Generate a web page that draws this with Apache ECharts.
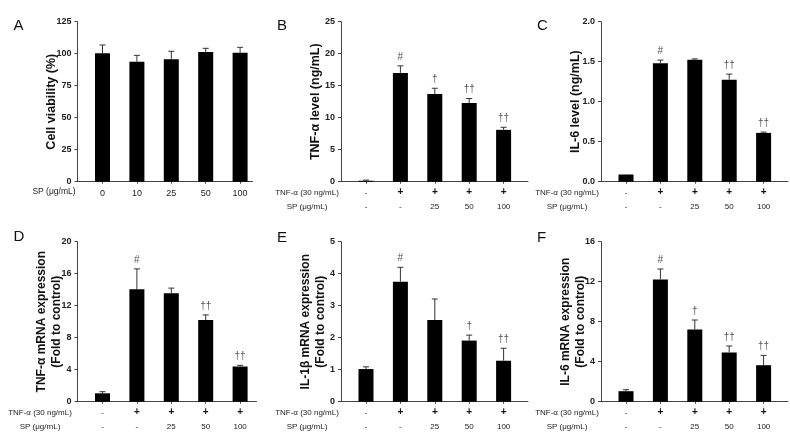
<!DOCTYPE html>
<html>
<head>
<meta charset="utf-8">
<script src="https://cdn.jsdelivr.net/npm/echarts@6/dist/echarts.min.js"></script>
<style>html,body{margin:0;padding:0;background:#fff;}#c{width:790px;height:443px;}</style>
</head>
<body>
<div id="c"></div>
<script>
// ---- data ----
const groups = [1, 2, 3, 4, 5];
const labelsA = ['0', '10', '25', '50', '100'];
const tnfRow = ['-', '+', '+', '+', '+'];
const spRow = ['-', '-', '25', '50', '100'];

const valuesA = [100.3, 93.7, 95.6, 101.3, 100.8];
const errA = [6.5, 5.0, 6.3, 2.9, 4.2];
const sigA = ['', '', '', '', ''];

const valuesB = [0.15, 17.0, 13.7, 12.3, 8.1];
const errB = [0.1, 1.1, 0.9, 0.7, 0.4];
const sigB = ['', '#', '†', '††', '††'];

const valuesC = [0.09, 1.48, 1.525, 1.275, 0.61];
const errC = [0.0, 0.04, 0.01, 0.07, 0.01];
const sigC = ['', '#', '', '††', '††'];

const valuesD = [1.05, 14.05, 13.55, 10.2, 4.4];
const errD = [0.2, 2.55, 0.65, 0.65, 0.15];
const sigD = ['', '#', '', '††', '††'];

const valuesE = [1.02, 3.75, 2.55, 1.91, 1.28];
const errE = [0.07, 0.45, 0.66, 0.17, 0.39];
const sigE = ['', '#', '', '†', '††'];

const valuesF = [1.05, 12.22, 7.22, 4.92, 3.65];
const errF = [0.15, 1.05, 0.95, 0.65, 0.98];
const sigF = ['', '#', '†', '††', '††'];

const yTicksA = [0, 125, 25];
const yTicksB = [0, 25, 5];
const yTicksC = [0, 2, 0.5];
const yTicksD = [0, 20, 4];
const yTicksE = [0, 5, 1];
const yTicksF = [0, 16, 4];

// ---- layout ----
const FONT = '"Liberation Sans", Arial, sans-serif';
const AXC = '#444';
const PX_PER = 34.4, OFF = 25;
const panels = [
  {letter:'A', left:77.5, top:21.7, width:175, vals:valuesA, err:errA, sig:sigA, y:yTicksA, name:'Cell viability (%)', gap:18, single:true, dec:0, rowX:54, lt:18},
  {letter:'B', left:341, top:21.7, width:187, vals:valuesB, err:errB, sig:sigB, y:yTicksB, name:'TNF-α level (ng/mL)', gap:17, dec:0, rowX:307, lt:18},
  {letter:'C', left:601, top:21.7, width:187, vals:valuesC, err:errC, sig:sigC, y:yTicksC, name:'IL-6 level (ng/mL)', gap:17, dec:1, rowX:567, lt:18},
  {letter:'D', left:77.5, top:241.7, width:179, vals:valuesD, err:errD, sig:sigD, y:yTicksD, name:'TNF-α mRNA expression\n(Fold to control)', gap:13, dec:0, rowX:40, lt:229, two:true},
  {letter:'E', left:341, top:241.7, width:187, vals:valuesE, err:errE, sig:sigE, y:yTicksE, name:'IL-1β mRNA expression\n(Fold to control)', gap:13, dec:0, rowX:307, lt:230, two:true},
  {letter:'F', left:601, top:241.7, width:187, vals:valuesF, err:errF, sig:sigF, y:yTicksF, name:'IL-6 mRNA expression\n(Fold to control)', gap:13, dec:0, rowX:567, lt:230, two:true}
];
const H = 160;

const grid = [], xAxis = [], yAxis = [], series = [], title = [], graphic = [];
panels.forEach((p, k) => {
  grid.push({left:p.left, top:p.top, width:p.width, height:H});
  const xmin = 1 - OFF / PX_PER;
  xAxis.push({
    type:'value', gridIndex:k, min:xmin, max:xmin + p.width / PX_PER,
    splitLine:{show:false},
    axisLine:{show:true, lineStyle:{color:AXC, width:1}},
    axisTick:{show:true, customValues:groups, length:2, lineStyle:{color:AXC}},
    axisLabel:{
      customValues:groups, margin: p.single ? 5 : 4,
      fontFamily:FONT, fontSize: p.single ? 9 : 8, color:'#222', lineHeight:14,
      formatter:(v) => {
        const i = Math.round(v) - 1;
        if (p.single) return labelsA[i];
        const t = tnfRow[i] === '+' ? '{b|+}' : '{n|-}';
        return t + '\n{n|' + spRow[i] + '}';
      },
      rich:{
        b:{fontFamily:FONT, fontSize:10, fontWeight:'bold', color:'#111', lineHeight:14},
        n:{fontFamily:FONT, fontSize:8, color:'#222', lineHeight:14}
      }
    }
  });
  yAxis.push({
    type:'value', gridIndex:k, min:p.y[0], max:p.y[1], interval:p.y[2],
    splitLine:{show:false},
    axisLine:{show:true, lineStyle:{color:AXC, width:1}},
    axisTick:{show:true, length:3, lineStyle:{color:AXC}},
    axisLabel:{margin:6, fontFamily:FONT, fontSize:9, fontWeight:'bold', color:'#222',
      formatter:(v) => v.toFixed(p.dec)},
    name:p.name, nameLocation:'middle', nameGap:p.gap, nameMoveOverlap:false,
    nameTextStyle:{fontFamily:FONT, fontSize: p.two ? 12 : 12.5, fontWeight:'bold', color:'#111', lineHeight: p.two ? 15 : 16}
  });
  series.push({
    type:'bar', xAxisIndex:k, yAxisIndex:k, barWidth:15,
    itemStyle:{color:'#000'},
    data: groups.map((g, i) => [g, p.vals[i]])
  });
  series.push({
    type:'custom', xAxisIndex:k, yAxisIndex:k, z:5,
    data: groups.map((g, i) => [g, p.vals[i], p.err[i]]),
    renderItem:(params, api) => {
      const x = api.value(0), v = api.value(1), e = api.value(2);
      const p0 = api.coord([x, v]);
      const p1 = api.coord([x, v + e]);
      const children = [];
      if (e > 0) {
        children.push({type:'line', shape:{x1:p0[0], y1:p0[1], x2:p1[0], y2:p1[1]}, style:{stroke:'#333', lineWidth:1}});
        children.push({type:'line', shape:{x1:p1[0]-3, y1:p1[1], x2:p1[0]+3, y2:p1[1]}, style:{stroke:'#333', lineWidth:1}});
      }
      const s = p.sig[params.dataIndex];
      if (s) {
        children.push({type:'text', x:p1[0], y:p1[1] - 9,
          style:{text:s, fill:'#555', font:'10px ' + FONT, textAlign:'center', textVerticalAlign:'middle'}});
      }
      return {type:'group', children};
    }
  });
  title.push({text:p.letter, left:p.left - 64, top:p.lt, padding:0,
    textStyle:{fontFamily:FONT, fontSize:15, fontWeight:'normal', color:'#111'}});
  const axisY = p.top + H;
  if (p.single) {
    graphic.push({type:'text', x:p.rowX, y:axisY + 10, style:{text:'SP (μg/mL)', font:'8.5px ' + FONT, fill:'#222', textAlign:'center', textVerticalAlign:'middle'}});
  } else {
    graphic.push({type:'text', x:p.rowX, y:axisY + 11, style:{text:'TNF-α (30 ng/mL)', font:'8px ' + FONT, fill:'#222', textAlign:'center', textVerticalAlign:'middle'}});
    graphic.push({type:'text', x:p.rowX, y:axisY + 25, style:{text:'SP (μg/mL)', font:'8px ' + FONT, fill:'#222', textAlign:'center', textVerticalAlign:'middle'}});
  }
});

const chart = echarts.init(document.getElementById('c'), null, {renderer:'canvas'});
chart.setOption({animation:false, backgroundColor:'#fff', title, grid, xAxis, yAxis, series, graphic});
</script>
</body>
</html>
